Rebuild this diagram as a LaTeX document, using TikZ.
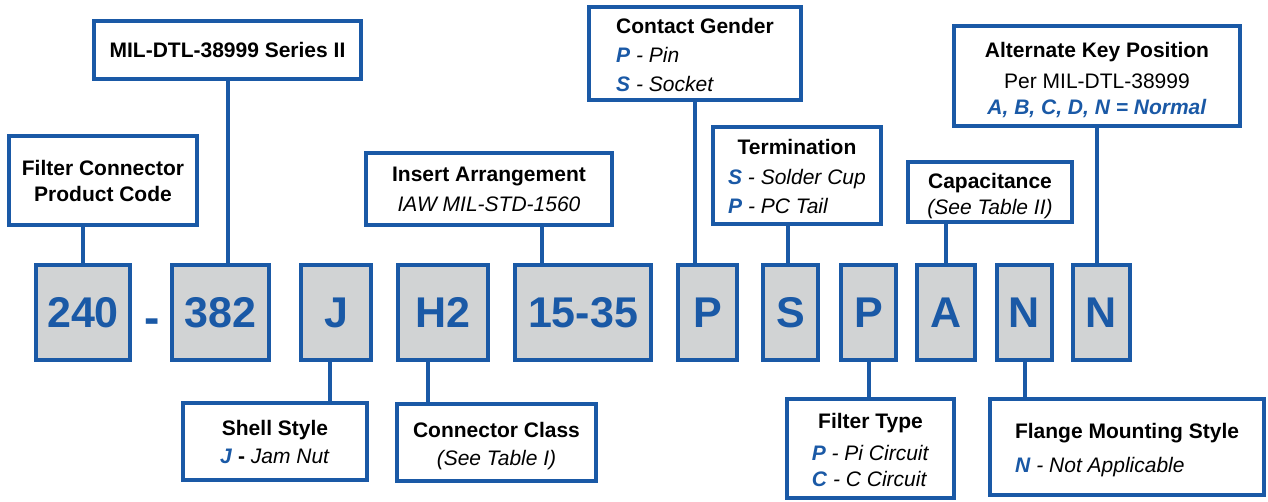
\documentclass[tikz,border=0pt]{standalone}
\usepackage{fontspec}
\setmainfont{Liberation Sans}
\usetikzlibrary{calc}
\definecolor{pnblue}{HTML}{1A59A6}
\definecolor{pngray}{HTML}{D1D3D4}
\newcommand{\sel}[1]{\textcolor{pnblue}{\textbf{\textit{#1}}}}
\newcommand{\topgap}[1]{\rule{0pt}{#1}}
\tikzset{
  codebox/.style={draw=pnblue, fill=pngray, line width=4pt, inner sep=0pt,
    minimum height=95, text=pnblue, font=\fontsize{43}{50}\selectfont\bfseries},
  infobox/.style={draw=pnblue, fill=white, line width=4pt, inner sep=0pt,
    align=center, font=\fontsize{21}{26}\selectfont},
  link/.style={draw=pnblue, line width=4pt}
}

\begin{document}
\begin{tikzpicture}[x=1pt,y=-1pt]
\useasboundingbox (0,0) rectangle (1268,501);

% part number boxes
\node[codebox, minimum width=94] (c240) at (83,312.5) {240};
\node[text=pnblue, font=\fontsize{46}{50}\selectfont\bfseries] (dash) at (152,326) {-};
\node[codebox, minimum width=97] (c382) at (220.5,312.5) {382};
\node[codebox, minimum width=70] (cJ) at (336,312.5) {J};
\node[codebox, minimum width=90] (cH2) at (443,312.5) {H2};
\node[codebox, minimum width=136] (c1535) at (583,312.5) {15-35};
\node[codebox, minimum width=59] (cP) at (707.5,312.5) {P};
\node[codebox, minimum width=55] (cS) at (790.5,312.5) {S};
\node[codebox, minimum width=55] (cF) at (868.5,312.5) {P};
\node[codebox, minimum width=58] (cA) at (946,312.5) {A};
\node[codebox, minimum width=55] (cN1) at (1024.5,312.5) {N};
\node[codebox, minimum width=57] (cN2) at (1101.5,312.5) {N};

% upper descriptions
\node[infobox, minimum width=188, minimum height=89] (fcode) at (103,180.5)
  {\textbf{Filter Connector}\\\textbf{Product Code}};
\node[infobox, minimum width=267, minimum height=58] (mil) at (227.5,50)
  {\textbf{MIL-DTL-38999 Series II}};
\node[infobox, minimum width=246, minimum height=72] (insert) at (489,189)
  {\textbf{Insert Arrangement}\\[4pt]\textit{IAW MIL-STD-1560}};
\node[infobox, minimum width=212, minimum height=93] (contact) at (695,53.5)
  {\begin{tabular}{@{}l@{}}\multicolumn{1}{@{}c@{}}{\topgap{26pt}\textbf{Contact Gender}}\\[3pt]
   \sel{P} \textit{- Pin}\\[3pt] \sel{S} \textit{- Socket}\end{tabular}};
\node[infobox, minimum width=168, minimum height=97] (term) at (797,175.5)
  {\begin{tabular}{@{}l@{}}\multicolumn{1}{@{}c@{}}{\topgap{24pt}\textbf{Termination}}\\[4pt]
   \sel{S} \textit{- Solder Cup}\\[3pt] \sel{P} \textit{- PC Tail}\end{tabular}};
\node[infobox, minimum width=164, minimum height=60] (cap) at (990,192)
  {\topgap{24pt}\textbf{Capacitance}\\\textit{(See Table II)}};
\node[infobox, minimum width=286, minimum height=100] (key) at (1097,76)
  {\topgap{23pt}\textbf{Alternate Key Position}\\[5pt]Per MIL-DTL-38999\\
   \sel{A, B, C, D, N = Normal}};

% lower descriptions
\node[infobox, minimum width=184, minimum height=77] (shell) at (275,441.5)
  {\textbf{Shell Style}\\[2pt]\sel{J} \textbf{-} \textit{Jam Nut}};
\node[infobox, minimum width=199, minimum height=77] (cclass) at (496.5,442.5)
  {\topgap{22pt}\textbf{Connector Class}\\[2pt]\textit{(See Table I)}};
\node[infobox, minimum width=167, minimum height=99] (ftype) at (870.5,448.5)
  {\begin{tabular}{@{}l@{}}\multicolumn{1}{@{}c@{}}{\topgap{26pt}\textbf{Filter Type}}\\[6pt]
   \sel{P} \textit{- Pi Circuit}\\ \sel{C} \textit{- C Circuit}\end{tabular}};
\node[infobox, minimum width=274, minimum height=96] (flange) at (1127,447)
  {\begin{tabular}{@{}l@{}}\multicolumn{1}{@{}c@{}}{\topgap{24pt}\textbf{Flange Mounting Style}}\\[8pt]
   \sel{N} \textit{- Not Applicable}\end{tabular}};

% connectors
\path[link] (c240.north) -- (c240.north |- fcode.south);
\path[link] (mil.south) -- (mil.south |- c382.north);
\path[link] ($(c1535.north)+(-41,0)$) -- ($(c1535.north |- insert.south)+(-41,0)$);
\path[link] (contact.south) -- (contact.south |- cP.north);
\path[link] ($(cS.north)+(-3,0)$) -- ($(cS.north |- term.south)+(-3,0)$);
\path[link] (cA.north) -- (cA.north |- cap.south);
\path[link] (key.south) -- (key.south |- cN2.north);
\path[link] ($(cJ.south)+(-6,0)$) -- ($(cJ.south |- shell.north)+(-6,0)$);
\path[link] ($(cH2.south)+(-15,0)$) -- ($(cH2.south |- cclass.north)+(-15,0)$);
\path[link] (cF.south) -- (cF.south |- ftype.north);
\path[link] (cN1.south) -- (cN1.south |- flange.north);
\end{tikzpicture}
\end{document}
